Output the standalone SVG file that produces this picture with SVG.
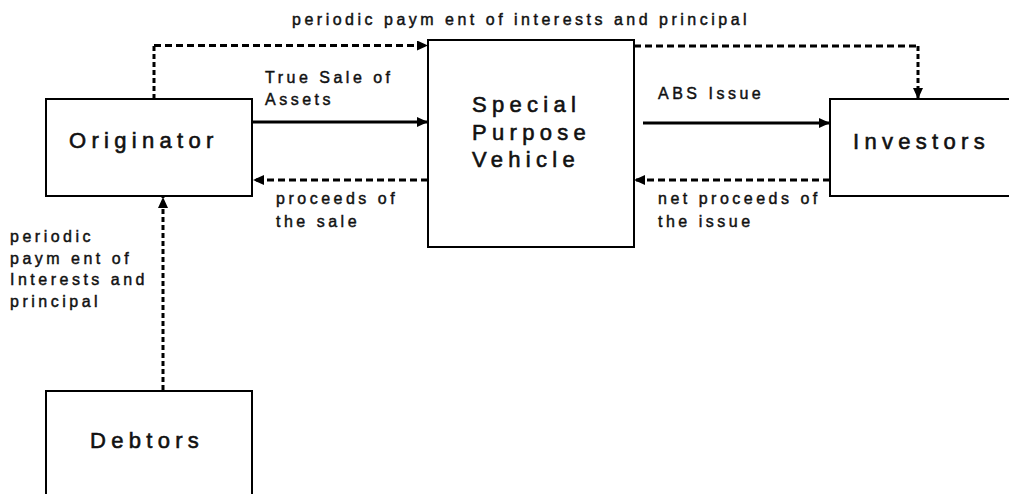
<svg xmlns="http://www.w3.org/2000/svg" width="1009" height="494" viewBox="0 0 1009 494">
  <style>
    .box { fill: #fff; stroke: #000; stroke-width: 2; }
    .title { font-family: "Liberation Sans", Arial, sans-serif; font-size: 22px; letter-spacing: 5.3px; fill: #111; stroke: #111; stroke-width: 0.6; }
    .lbl { font-family: "Liberation Sans", Arial, sans-serif; font-size: 16px; letter-spacing: 3.5px; fill: #111; stroke: #111; stroke-width: 0.45; }
    .solid { fill: none; stroke: #000; stroke-width: 3; }
    .dashh { fill: none; stroke: #000; stroke-width: 3; stroke-dasharray: 7 4; }
    .dashv { fill: none; stroke: #000; stroke-width: 3; stroke-dasharray: 5 3; }
  </style>
  <defs>
    <marker id="arr" markerUnits="userSpaceOnUse" markerWidth="12" markerHeight="10" refX="11" refY="5" orient="auto">
      <path d="M0,0 L11,5 L0,10 z" fill="#000"/>
    </marker>
  </defs>

  <g id="originator">
    <rect class="box" x="46" y="99" width="206" height="97"/>
    <text class="title" x="69" y="148">Originator</text>
  </g>
  <g id="spv">
    <rect class="box" x="428" y="40" width="206" height="207"/>
    <text class="title" x="472" y="112">Special</text>
    <text class="title" x="472" y="140">Purpose</text>
    <text class="title" x="472" y="167">Vehicle</text>
  </g>
  <g id="investors">
    <rect class="box" x="830" y="99" width="190" height="97"/>
    <text class="title" x="853" y="149">Investors</text>
  </g>
  <g id="debtors">
    <rect class="box" x="46" y="391" width="206" height="110"/>
    <text class="title" x="90" y="448">Debtors</text>
  </g>

  <g id="connectors">
    <path class="solid" d="M252,122 H428" marker-end="url(#arr)"/>
    <path class="dashh" d="M428,180 H253" marker-end="url(#arr)"/>
    <path class="solid" d="M643,123 H830" marker-end="url(#arr)"/>
    <path class="dashh" d="M830,180 H634" marker-end="url(#arr)"/>
    <path class="dashv" d="M154,99 V45.5" />
    <path class="dashh" d="M154,45.5 H428" marker-end="url(#arr)"/>
    <path class="dashh" d="M634,46 H918" />
    <path class="dashv" d="M918,46 V99" marker-end="url(#arr)"/>
    <path class="dashv" d="M163,390 V197" marker-end="url(#arr)"/>
  </g>

  <g id="labels">
    <text class="lbl" x="292" y="25">periodic paym ent of interests and principal</text>
    <text class="lbl" x="265" y="83">True Sale of</text>
    <text class="lbl" x="265" y="105">Assets</text>
    <text class="lbl" x="276" y="204">proceeds of</text>
    <text class="lbl" x="276" y="227">the sale</text>
    <text class="lbl" x="658" y="99">ABS Issue</text>
    <text class="lbl" x="658" y="204">net proceeds of</text>
    <text class="lbl" x="658" y="227">the issue</text>
    <text class="lbl" x="10" y="242">periodic</text>
    <text class="lbl" x="10" y="264">paym ent of</text>
    <text class="lbl" x="10" y="285">Interests and</text>
    <text class="lbl" x="10" y="307">principal</text>
  </g>
</svg>
